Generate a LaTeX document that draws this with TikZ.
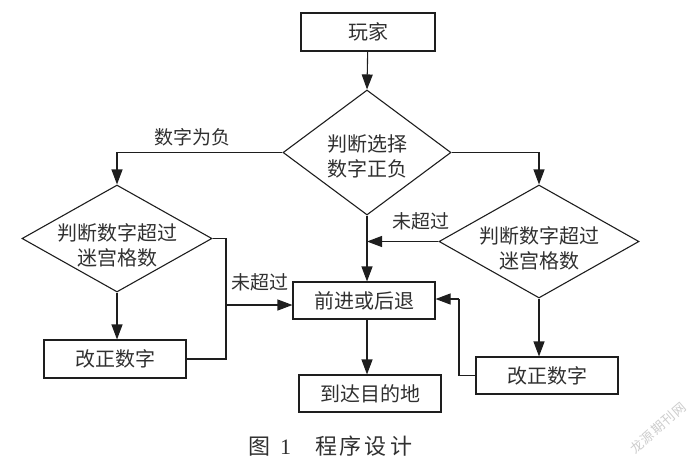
\documentclass[tikz,border=0pt]{standalone}
\usepackage{fontspec}
\setmainfont{Liberation Serif}
\newfontfamily\cjk{Noto Sans CJK SC}
\usetikzlibrary{shapes.geometric,arrows.meta}
\definecolor{ink}{HTML}{1E1E1E}
\definecolor{txt}{HTML}{303030}
\tikzset{
  every node/.style={text=txt},
  box/.style={draw=ink, line width=1.1pt, rectangle, minimum width=142pt, minimum height=37pt, inner sep=0pt, font=\cjk\fontsize{20}{24}\selectfont},
  dia/.style={draw=ink, line width=1.1pt, diamond, inner sep=0pt},
  diatext/.style={align=center, font=\cjk\fontsize{20}{25}\selectfont, text=txt},
  lab/.style={font=\cjk\fontsize{19}{22}\selectfont, inner sep=0pt},
  conn/.style={draw=ink, line width=1.1pt},
  arr/.style={conn, -{Triangle[length=15pt,width=11pt]}}
}
\begin{document}
\begin{tikzpicture}[x=1pt,y=-1pt]
\useasboundingbox (0,0) rectangle (700,469);
% nodes
\node[box, minimum width=134pt, minimum height=38pt] (wanjia) at (368,32) {玩家};
\node[dia, minimum width=168pt, minimum height=125pt,
      label={[diatext, yshift=-4pt]center:判断选择\\数字正负}] (d1) at (367,152.5) {};
\node[dia, minimum width=190pt, minimum height=107pt,
      label={[diatext, yshift=-7pt]center:判断数字超过\\迷宫格数}] (d2) at (117,238.5) {};
\node[dia, minimum width=200pt, minimum height=113pt,
      label={[diatext, yshift=-7pt]center:判断数字超过\\迷宫格数}] (d3) at (539,241.5) {};
\node[box] (act) at (364,300.5) {前进或后退};
\node[box] (goal) at (370,393.5) {到达目的地};
\node[box, minimum height=38pt] (fix1) at (115,359) {改正数字};
\node[box] (fix2) at (547,375.5) {改正数字};
% labels
\node[lab] (lneg) at (192,137) {数字为负};
\node[lab] (lno1) at (260,282) {未超过};
\node[lab] (lno2) at (421,221) {未超过};
% caption and mark
\node[font=\fontsize{22}{24}\selectfont, inner sep=0pt] (cap) at (330,446)
  {{\cjk 图}\hspace{10pt}1\hspace{24pt}{\cjk 程\hspace{3pt}序\hspace{3pt}设\hspace{3pt}计}};
\node[font=\cjk\fontsize{13}{15}\selectfont, text=black!20, rotate=41, inner sep=0pt] (wm) at (658,428) {龙\hspace{1pt}源\hspace{1pt}期\hspace{1pt}刊\hspace{1pt}网};
% junction coordinates
\coordinate (jl) at (226,305);
\coordinate (jr) at (459,299);
% connectors
\draw[arr] (wanjia) -- (d1.north);
\draw[arr] (d1.west) -| (d2.north);
\draw[arr] (d1.east) -| (d3.north);
\draw[arr] (d1.south) -- (d1.south |- act.north);
\draw[arr] (d3.west) -- (d3.west -| d1.south);
\draw[arr] (d2.south) -- (d2.south |- fix1.north);
\draw[conn] (d2.east) -| (jl);
\draw[conn] (fix1.east) -| (jl);
\draw[arr] (jl) -- (jl -| act.west);
\draw[arr] (d3.south) -- (d3.south |- fix2.north);
\draw[conn] (fix2.west) -| (jr);
\draw[arr] (jr) -- (jr -| act.east);
\draw[arr] (act.south -| d1.south) -- (d1.south |- goal.north);
\end{tikzpicture}
\end{document}
